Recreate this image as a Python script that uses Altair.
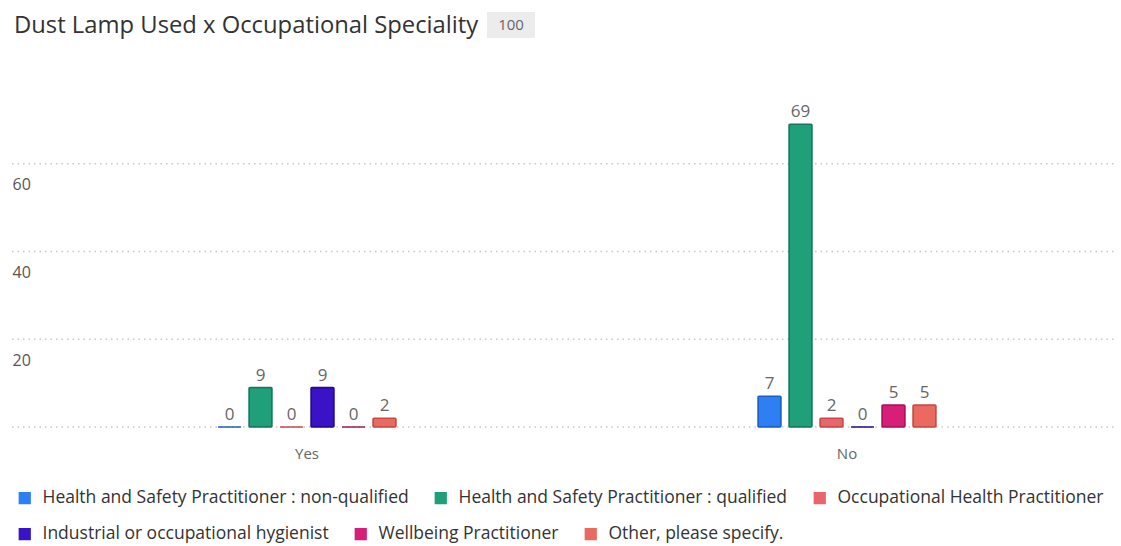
import altair as alt
import pandas as pd

# --- data -------------------------------------------------------------
answers = ["Yes", "No"]
specialities = [
    "Health and Safety Practitioner : non-qualified",
    "Health and Safety Practitioner : qualified",
    "Occupational Health Practitioner",
    "Industrial or occupational hygienist",
    "Wellbeing Practitioner",
    "Other, please specify.",
]
yes_counts = [0, 9, 0, 9, 0, 2]
no_counts = [7, 69, 2, 0, 5, 5]
total_responses = 100
grid_values = [0, 20, 40, 60]
tick_values = [20, 40, 60]

fill_colors = ["#2e7ff3", "#1fa07b", "#e9656b", "#3a13c7", "#d81f78", "#ea6a60"]
edge_colors = ["#1c5fc4", "#157a5c", "#c44a50", "#240a8f", "#a8145a", "#c44d44"]

title_text = "Dust Lamp Used x Occupational Speciality"
FONT = "Open Sans"

rows = []
for ans, counts in zip(answers, [yes_counts, no_counts]):
    for spec, c in zip(specialities, counts):
        rows.append({"answer": ans, "speciality": spec, "count": c})
df = pd.DataFrame(rows)

W, H = 1080, 329
Y_MAX = 75

x_enc = alt.X(
    "answer:N",
    sort=answers,
    scale=alt.Scale(domain=answers, paddingInner=0.6556, paddingOuter=0.3278),
    axis=alt.Axis(
        title=None, labelAngle=0, domain=False, ticks=False, labelPadding=19,
        labelFontSize=15, labelColor="#666666", labelFont=FONT,
    ),
)
xoff_enc = alt.XOffset(
    "speciality:N",
    sort=specialities,
    scale=alt.Scale(domain=specialities, paddingInner=0.26, paddingOuter=0.13),
)
y_scale = alt.Scale(domain=[0, Y_MAX], nice=False)
y_axis = alt.Axis(
    title=None, values=tick_values, grid=False, domain=False, ticks=False,
    labelAlign="left", labelBaseline="middle", labelOffset=21, labelPadding=25,
    labelFontSize=16, labelColor="#555555", labelFont=FONT,
)
y_enc = alt.Y("count:Q", scale=y_scale, axis=y_axis)

# dotted horizontal gridlines, running under the axis labels
grid = (
    alt.Chart(pd.DataFrame({"v": grid_values}))
    .mark_rule(color="#c8c8c8", strokeWidth=1.5, strokeDash=[1.5, 4])
    .encode(
        y=alt.Y("v:Q", scale=y_scale, axis=y_axis),
        x=alt.value(-25),
        x2=alt.value(W - 2),
    )
)


def bar_layer(names, legend_y):
    """Bars for a subset of specialities, with a one-row legend of their own."""
    fills = [fill_colors[specialities.index(n)] for n in names]
    edges = [edge_colors[specialities.index(n)] for n in names]
    return (
        alt.Chart(df)
        .transform_filter(alt.FieldOneOfPredicate(field="speciality", oneOf=names))
        .mark_bar(strokeWidth=1.5, cornerRadius=1)
        .encode(
            x=x_enc,
            xOffset=xoff_enc,
            y=y_enc,
            color=alt.Color(
                "speciality:N",
                sort=names,
                scale=alt.Scale(domain=names, range=fills),
                legend=alt.Legend(
                    title=None, orient="none", legendX=-21, legendY=legend_y,
                    direction="horizontal", symbolType="square", symbolSize=150,
                    symbolStrokeWidth=0, labelFontSize=17.5, labelColor="#333333",
                    labelFont=FONT, labelLimit=600, labelOffset=9,
                    columnPadding=23,
                ),
            ),
            stroke=alt.Stroke(
                "speciality:N",
                sort=names,
                scale=alt.Scale(domain=names, range=edges),
                legend=None,
            ),
        )
    )


bars_top = bar_layer(specialities[:3], 391)
bars_bottom = bar_layer(specialities[3:], 427)

labels = (
    alt.Chart(df)
    .mark_text(baseline="bottom", dy=-3, fontSize=17, color="#666666", font=FONT)
    .encode(x=x_enc, xOffset=xoff_enc, y=y_enc, text=alt.Text("count:Q"))
)

head = pd.DataFrame({"t": [title_text], "n": [str(total_responses)]})
title = (
    alt.Chart(head)
    .mark_text(align="left", baseline="alphabetic", fontSize=23.8, color="#333333", font=FONT)
    .encode(x=alt.value(-23), y=alt.value(-65), text="t:N")
)
badge_box = (
    alt.Chart(head)
    .mark_rect(color="#ececec")
    .encode(x=alt.value(450), x2=alt.value(498), y=alt.value(-86), y2=alt.value(-60))
)
badge_text = (
    alt.Chart(head)
    .mark_text(align="center", baseline="middle", fontSize=15, color="#666666", font=FONT)
    .encode(x=alt.value(474), y=alt.value(-73), text="n:N")
)

chart = (
    alt.layer(grid, bars_top, bars_bottom, labels, title, badge_box, badge_text)
    .resolve_scale(y="shared", color="independent", stroke="independent")
    .properties(
        width=W, height=H,
        autosize=alt.AutoSizeParams(type="none"),
        padding={"left": 37, "top": 98, "right": 4, "bottom": 119},
        background="white",
    )
    .configure_view(stroke=None)
)

chart.save("out.html", embed_options={"renderer": "svg", "actions": False})
